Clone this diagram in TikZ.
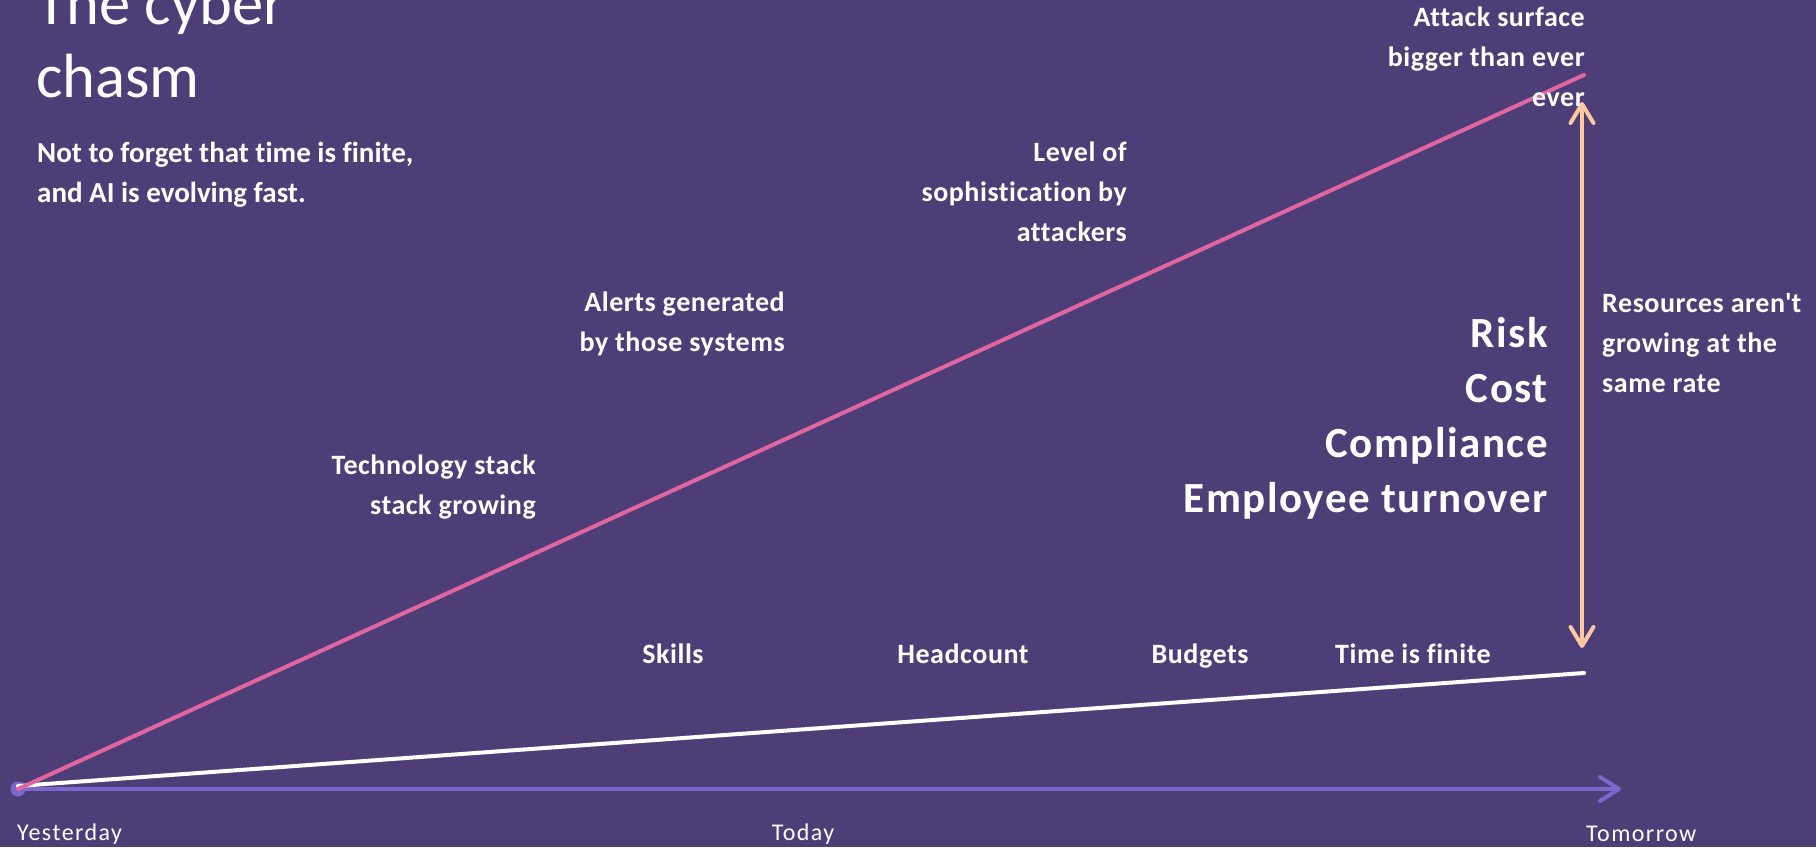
\documentclass[tikz,border=0pt]{standalone}
\usepackage{fontspec}
\setmainfont[Ligatures={TeX,NoCommon}]{Carlito}
\usetikzlibrary{arrows.meta}
\definecolor{bgpurple}{HTML}{4E3E78}
\definecolor{pinkline}{HTML}{E065A0}
\definecolor{peach}{HTML}{FFC8A0}
\definecolor{axispurple}{HTML}{7A68CB}
\newcommand\rlines[1]{\begin{tabular}[t]{@{}r@{}}#1\end{tabular}}
\newcommand\llines[1]{\begin{tabular}[t]{@{}l@{}}#1\end{tabular}}
\begin{document}
\begin{tikzpicture}[x=1pt,y=-1pt,
  lbl/.style={text=white,inner sep=0pt,font=\bfseries\fontsize{28}{40}\selectfont\addfontfeature{LetterSpace=2}},
  biglbl/.style={text=white,inner sep=0pt,font=\bfseries\fontsize{43}{55}\selectfont\addfontfeature{LetterSpace=3.5}},
  timelbl/.style={text=white,inner sep=0pt,font=\fontsize{24}{28}\selectfont\addfontfeature{LetterSpace=6}},
  growline/.style={line width=4pt,line cap=round}]
\useasboundingbox (0,0) rectangle (1816,847);
\fill[bgpurple] (0,0) rectangle (1816,847);
% title
\node[text=white,inner sep=0pt,anchor=base west,font=\fontsize{62.5}{73}\selectfont] (title) at (36,24) {\llines{The cyber\\chasm}};
\node[text=white,inner sep=0pt,anchor=base west,font=\bfseries\fontsize{29}{40}\selectfont] (subtitle) at (37,162) {\llines{Not to forget that time is finite,\\and AI is evolving fast.}};
% geometry
\node[circle,fill=axispurple,inner sep=0pt,minimum size=15pt] (origin) at (18,789) {};
\coordinate (axisend) at (1621,789);
\coordinate (pinkend) at (1584,75);
\coordinate (whiteend) at (1584,673);
\coordinate (arrtop) at (1582,102);
\coordinate (arrbot) at (1582,648);
\draw[axispurple,line width=4pt,-{Straight Barb[length=19pt,width=24pt,line width=4pt,line cap=round,line join=round]}] (origin.center) -- (axisend);
\draw[white,growline] (18,786) -- (whiteend);
\draw[pinkline,growline] (origin.center) -- (pinkend);
\draw[peach,line width=4pt,{Straight Barb[length=19pt,width=23pt,line width=4pt,line cap=round,line join=round]}-{Straight Barb[length=19pt,width=23pt,line width=4pt,line cap=round,line join=round]}] (arrtop) -- (arrbot);
% labels along pink line
\node[lbl,anchor=base east] (attack) at (1585,26) {\rlines{Attack surface\\bigger than ever\\ever}};
\node[lbl,anchor=base east] (level) at (1127,161) {\rlines{Level of\\sophistication by\\attackers}};
\node[lbl,anchor=base east] (alerts) at (785,311) {\rlines{Alerts generated\\by those systems}};
\node[lbl,anchor=base east] (tech) at (536,474) {\rlines{Technology stack\\stack growing}};
% big labels
\node[biglbl,anchor=base east] (risk) at (1548,347) {\rlines{Risk\\Cost\\Compliance\\Employee turnover}};
\node[lbl,anchor=base west] (resources) at (1602,312) {\llines{Resources aren\textquotesingle t\\growing at the\\same rate}};
% resources line labels
\node[lbl,anchor=base] (skills) at (673,663) {Skills};
\node[lbl,anchor=base] (headcount) at (963,663) {Headcount};
\node[lbl,anchor=base] (budgets) at (1200,663) {Budgets};
\node[lbl,anchor=base west] (timefinite) at (1335,663) {Time is finite};
% time axis labels
\node[timelbl,anchor=base west] (yesterday) at (17,840) {Yesterday};
\node[timelbl,anchor=base] (today) at (803,840) {Today};
\node[timelbl,anchor=base west] (tomorrow) at (1586,841) {Tomorrow};
\end{tikzpicture}
\end{document}
